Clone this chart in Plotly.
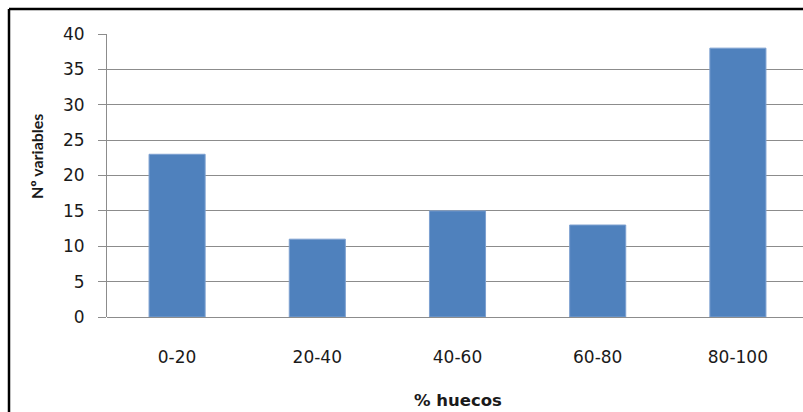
import plotly.graph_objects as go

# Number of variables per gap-percentage bin
categories = ["0-20", "20-40", "40-60", "60-80", "80-100"]
n_variables = [23, 11, 15, 13, 38]
y_ticks = [0, 5, 10, 15, 20, 25, 30, 35, 40]

W, H = 803, 412
L, T, B = 107, 34, 95
plot_w = W - L
plot_h = H - T - B
cat_step = 140.2  # pixel spacing between category centres


def px_x(p):
    return (p - L) / plot_w


def px_y(p):
    return (H - B - p) / plot_h


fig = go.Figure(
    go.Bar(
        x=categories,
        y=n_variables,
        width=0.4,
        marker=dict(color="#4F81BD", line=dict(color="#7DA0D0", width=1)),
    )
)

grid = "#8C8C8C"
fig.update_layout(
    width=W,
    height=H,
    margin=dict(l=L, r=0, t=T, b=B),
    paper_bgcolor="white",
    plot_bgcolor="white",
    showlegend=False,
    font=dict(family="DejaVu Sans", size=17, color="#1a1a1a"),
    xaxis=dict(
        type="category",
        range=[-0.5, -0.5 + plot_w / cat_step],
        showgrid=False,
        showline=False,
        ticks="",
        ticklabelstandoff=28,
        tickfont=dict(family="DejaVu Sans", size=17),
    ),
    yaxis=dict(
        range=[0, 40],
        tickvals=y_ticks,
        showgrid=True,
        gridcolor=grid,
        gridwidth=1,
        zeroline=True,
        zerolinecolor=grid,
        zerolinewidth=1,
        showline=True,
        linecolor=grid,
        linewidth=1,
        ticks="outside",
        ticklen=8,
        tickcolor=grid,
        ticklabelstandoff=10,
        tickfont=dict(family="DejaVu Sans", size=17),
    ),
    shapes=[
        dict(type="line", xref="paper", yref="paper",
             x0=px_x(9), x1=px_x(W + 5), y0=px_y(9), y1=px_y(9),
             line=dict(color="black", width=2.5)),
        dict(type="line", xref="paper", yref="paper",
             x0=px_x(9), x1=px_x(9), y0=px_y(9), y1=px_y(H + 5),
             line=dict(color="black", width=2.5)),
    ],
    annotations=[
        dict(text="<b>% huecos</b>", xref="paper", yref="paper",
             x=px_x(458), y=px_y(401), showarrow=False,
             xanchor="center", yanchor="middle",
             font=dict(family="DejaVu Sans", size=16.5, color="#1a1a1a")),
        dict(text="<b>Nº variables</b>", xref="paper", yref="paper",
             x=px_x(36), y=px_y(157), showarrow=False, textangle=-90,
             xanchor="center", yanchor="middle",
             font=dict(family="Lato", size=16, color="#1a1a1a")),
    ],
)

fig.write_html("out.html")
